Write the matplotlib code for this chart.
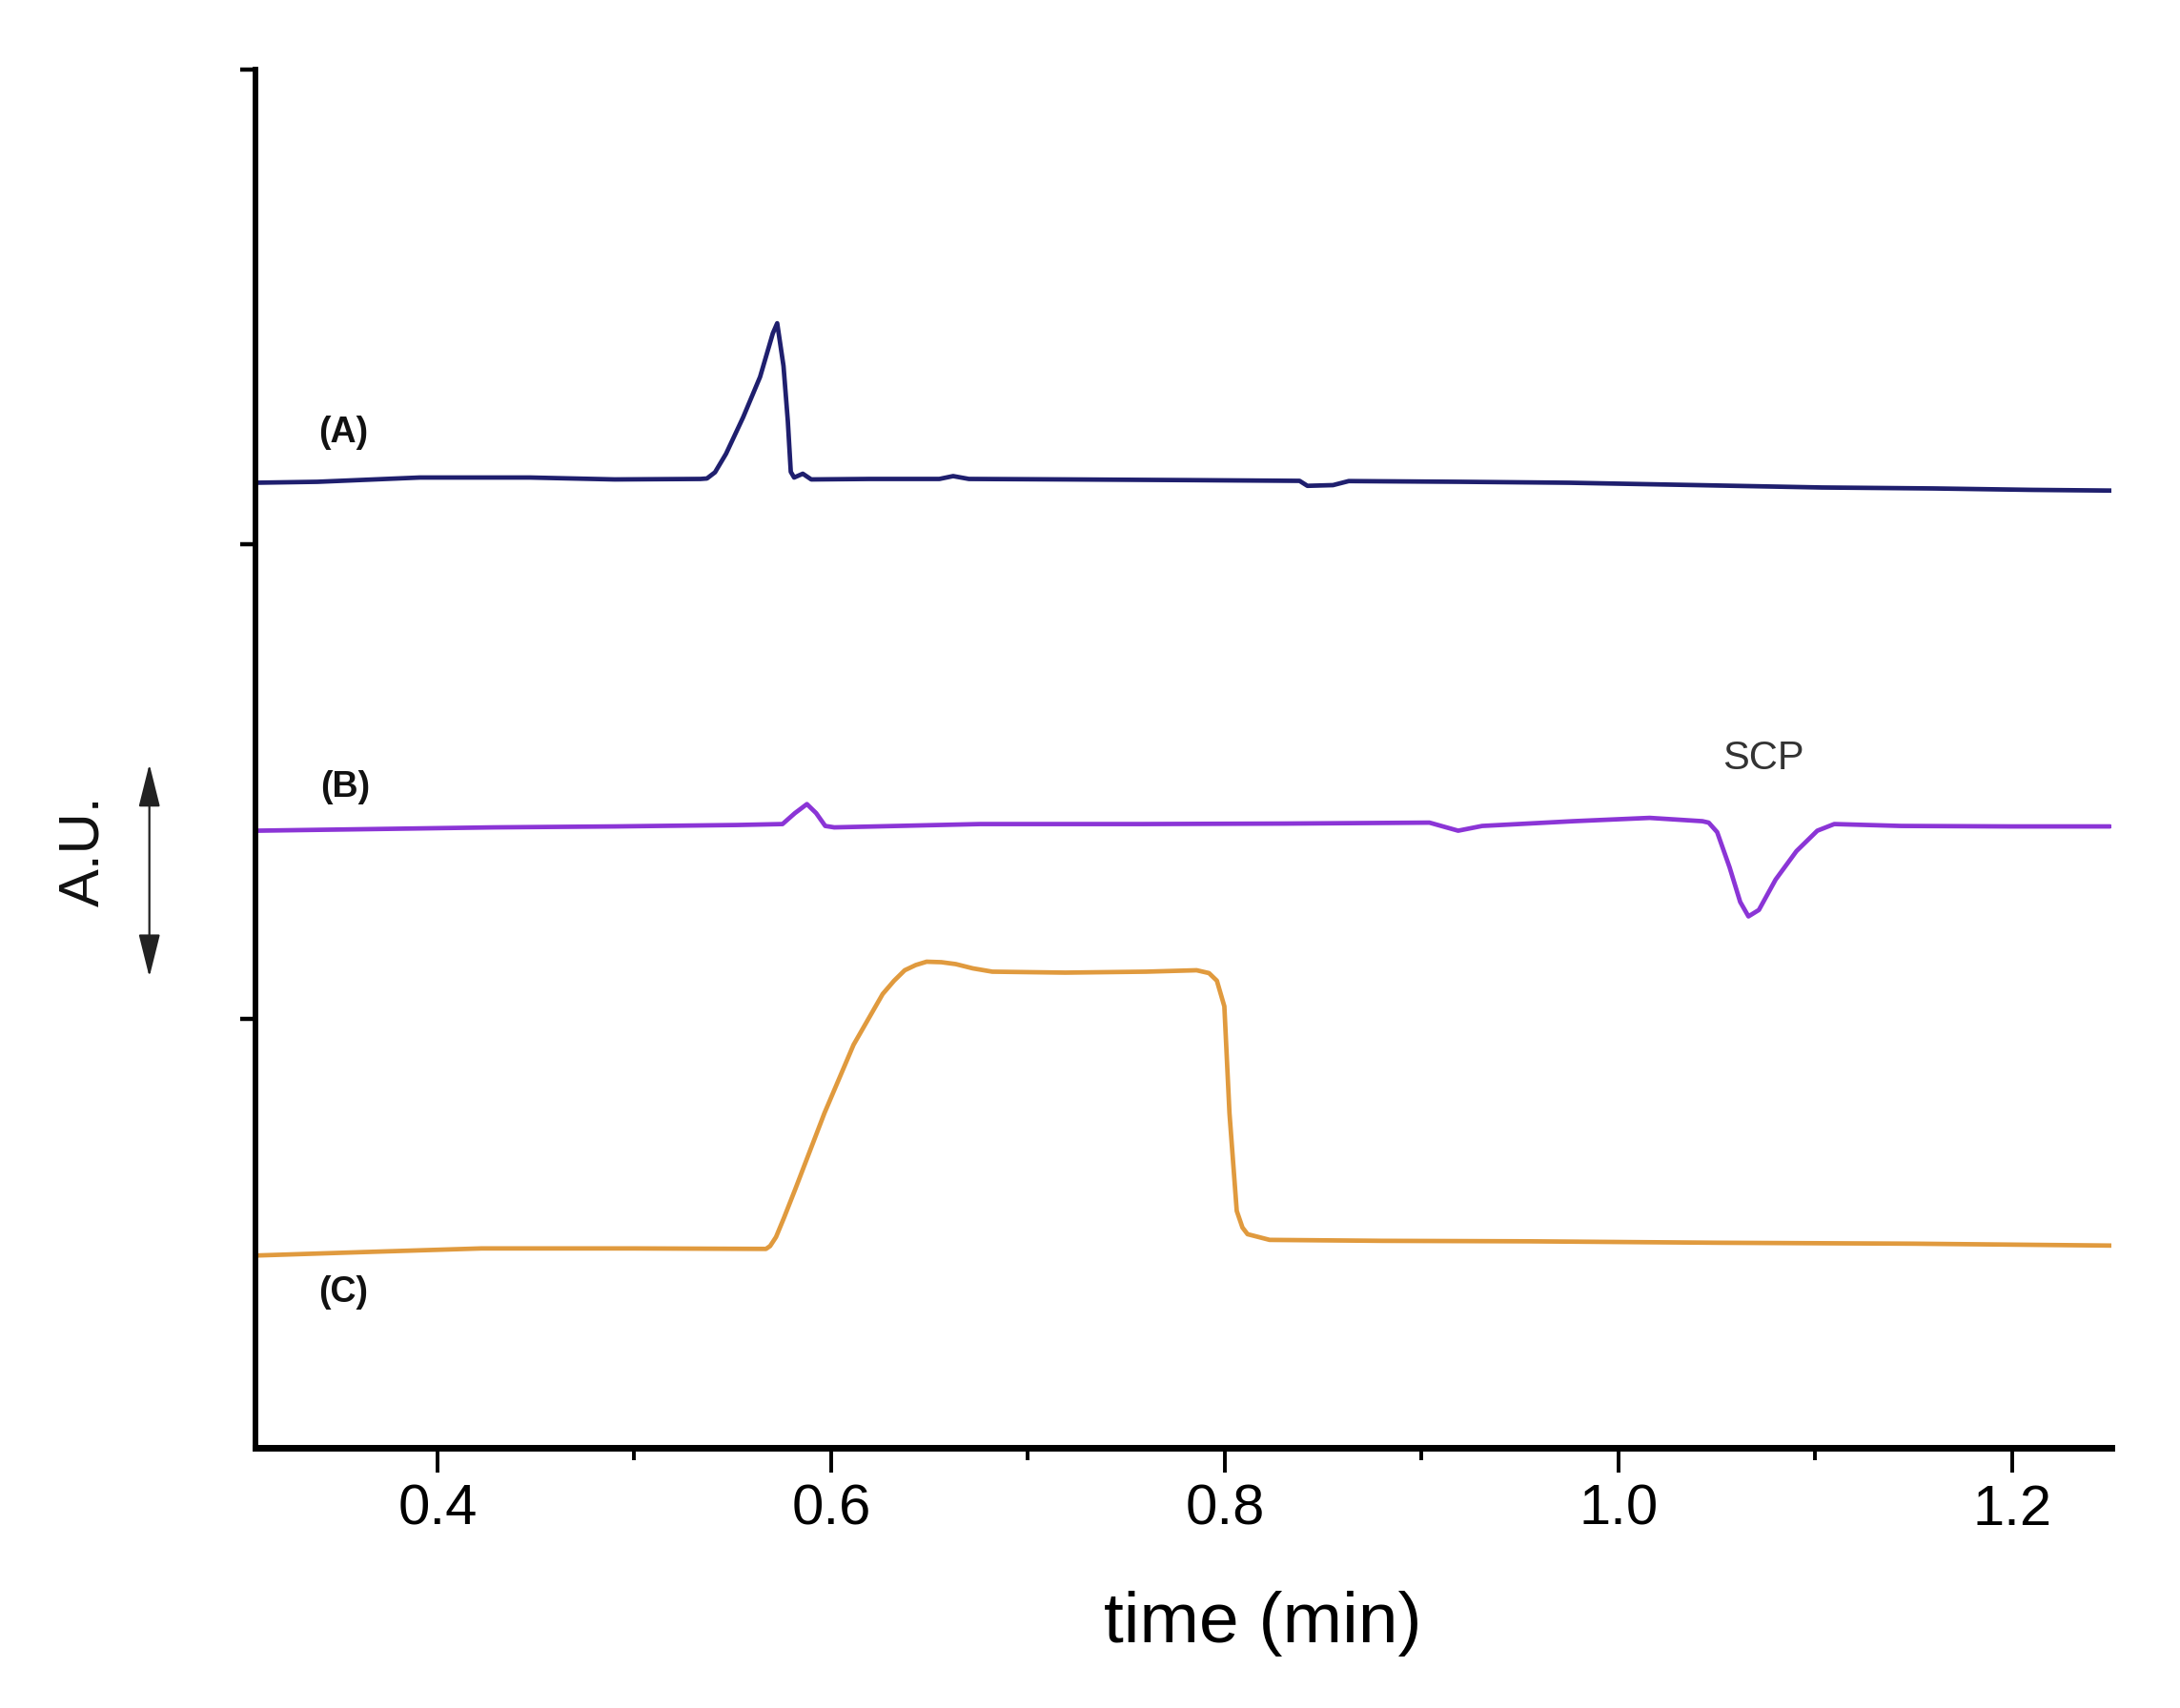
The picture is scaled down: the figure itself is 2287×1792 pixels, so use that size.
import matplotlib
matplotlib.use("Agg")
import matplotlib.pyplot as plt
from matplotlib.ticker import FixedLocator

plt.rcParams['font.family'] = ['Liberation Sans', 'DejaVu Sans']

# ---- data (time in min, signal in arbitrary units, traces offset) ----
time_A = [0.307, 0.339, 0.391, 0.447, 0.490, 0.5336, 0.5369, 0.541, 0.5466, 0.5553,
          0.5639, 0.5704, 0.5726, 0.5758, 0.5780, 0.5795, 0.5812, 0.5856, 0.5899,
          0.62, 0.655, 0.662, 0.67, 0.72, 0.783, 0.838, 0.842, 0.855, 0.863,
          0.92, 0.975, 1.04, 1.1034, 1.16, 1.21, 1.2505]
signal_A = [1.129, 1.131, 1.140, 1.140, 1.136, 1.137, 1.138, 1.151, 1.190, 1.267,
            1.352, 1.444, 1.465, 1.375, 1.259, 1.152, 1.140, 1.148, 1.136,
            1.137, 1.137, 1.143, 1.137, 1.136, 1.1345, 1.133, 1.1225, 1.124, 1.1325,
            1.131, 1.129, 1.124, 1.119, 1.117, 1.114, 1.1125]

time_B = [0.308, 0.36, 0.4285, 0.49, 0.5522, 0.5753, 0.5816, 0.5877, 0.5924, 0.597,
          0.6016, 0.6758, 0.7586, 0.83, 0.904, 0.9186, 0.9308, 0.977, 1.0159,
          1.0427, 1.0459, 1.0502, 1.0565, 1.0619, 1.0661, 1.0714, 1.0799, 1.0905,
          1.1011, 1.1097, 1.1436, 1.20, 1.2498]
signal_B = [0.396, 0.399, 0.403, 0.405, 0.408, 0.410, 0.433, 0.452, 0.433, 0.406,
            0.403, 0.410, 0.410, 0.411, 0.413, 0.396, 0.406, 0.416, 0.423,
            0.416, 0.413, 0.393, 0.319, 0.246, 0.2155, 0.229, 0.293, 0.353,
            0.396, 0.410, 0.406, 0.405, 0.405]

time_C = [0.3074, 0.36, 0.4223, 0.50, 0.5669, 0.5690, 0.5720, 0.5760, 0.5817, 0.5966, 0.6114,
          0.6262, 0.632, 0.6374, 0.643, 0.6485, 0.6560, 0.6633, 0.6720, 0.6819, 0.7189, 0.76,
          0.7857, 0.7920, 0.7960, 0.7998, 0.8024, 0.8061, 0.8090, 0.8116, 0.8228, 0.88,
          0.9544, 1.05, 1.15, 1.2505]
signal_C = [-0.499, -0.492, -0.484, -0.484, -0.485, -0.479, -0.460, -0.420, -0.360, -0.199, -0.055,
            0.052, 0.080, 0.102, 0.113, 0.120, 0.119, 0.115, 0.106, 0.099, 0.097, 0.099,
            0.102, 0.096, 0.080, 0.026, -0.199, -0.405, -0.440, -0.454, -0.466, -0.468,
            -0.469, -0.472, -0.474, -0.478]

trace_labels = ["(A)", "(B)", "(C)"]
label_pos = [(0.352, 1.235), (0.353, 0.488), (0.352, -0.576)]
colors = ["#1f1f6e", "#8b35d6", "#e09a3e"]
x_major = [0.4, 0.6, 0.8, 1.0, 1.2]
x_minor = [0.5, 0.7, 0.9, 1.1]
y_ticks = [0, 1, 2]

W, H = 2287, 1792
fig = plt.figure(figsize=(W / 100, H / 100), dpi=100)
ax = fig.add_axes([268 / W, 1 - 1519 / H, (2215 - 268) / W, (1519 - 72.7) / H])

for t, s, c in zip([time_A, time_B, time_C], [signal_A, signal_B, signal_C], colors):
    ax.plot(t, s, color=c, lw=3.4, solid_joinstyle='round', solid_capstyle='round')

for lab, (tx, ty) in zip(trace_labels, label_pos):
    ax.text(tx, ty, lab, fontsize=27, fontweight='bold', ha='center', va='center', color='#111111')
ax.text(1.0736, 0.547, "SCP", fontsize=30, ha='center', va='center', color='#333333')

ax.set_xlim(0.3075, 1.2505)
ax.set_ylim(-0.904, 2.0)
ax.xaxis.set_major_locator(FixedLocator(x_major))
ax.xaxis.set_minor_locator(FixedLocator(x_minor))
ax.set_xticklabels(["0.4", "0.6", "0.8", "1.0", "1.2"])
ax.yaxis.set_major_locator(FixedLocator(y_ticks))
ax.set_yticklabels([])

for side in ['top', 'right']:
    ax.spines[side].set_visible(False)
ax.spines['left'].set_linewidth(4.2)
ax.spines['bottom'].set_linewidth(5.0)
ax.spines['left'].set_capstyle('projecting')
ax.spines['bottom'].set_capstyle('projecting')
ax.tick_params(axis='x', which='major', direction='out', length=19, width=2.8, labelsize=43, pad=8)
ax.tick_params(axis='x', which='minor', direction='out', length=9.5, width=2.8)
ax.tick_params(axis='y', which='major', direction='out', length=11.5, width=3.2)

ax.set_xlabel("time (min)", fontsize=54)
ax.xaxis.set_label_coords((1325 - 268) / (2215 - 268), -(1703 - 1519) / (1519 - 72.7))
ax.xaxis.label.set_va('center')

fig.text(88 / W, 1 - 893 / H, "A.U.", fontsize=43, rotation=90, ha='center', va='center', color='#111111')
ax.annotate('', xy=(156.7 / W, 1 - 801.7 / H), xytext=(156.7 / W, 1 - 1025 / H),
            xycoords='figure fraction', textcoords='figure fraction',
            arrowprops=dict(arrowstyle='<|-|>,head_length=1.4,head_width=0.35',
                            color='#222222', lw=1.6, mutation_scale=20,
                            shrinkA=0, shrinkB=0))

fig.savefig("out.png", dpi=100, facecolor='white')
